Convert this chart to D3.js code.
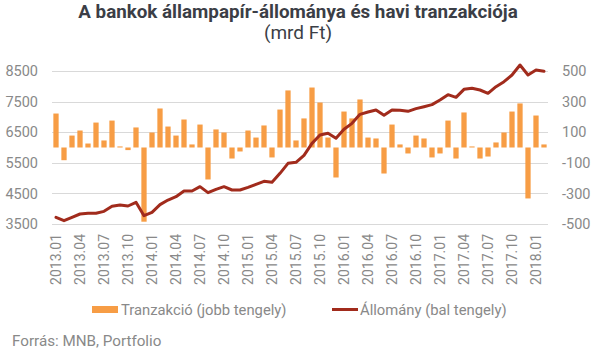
<!DOCTYPE html>
<html lang="hu">
<head>
<meta charset="utf-8">
<title>A bankok állampapír-állománya és havi tranzakciója</title>
<script src="https://cdn.jsdelivr.net/npm/d3@7"></script>
<style>
  body { margin: 0; background: #fff; font-family: Roboto, "Open Sans", sans-serif; }
  .tick text { fill: #898989; font-size: 14px; }
</style>
</head>
<body>
<div id="chart"></div>
<script>
// havi adatok 2013.01 - 2018.02
var months = [];
for (var y = 2013; y <= 2018; y++) {
  for (var m = 1; m <= 12; m++) {
    if (y == 2018 && m > 2) break;
    months.push(y + "." + (m < 10 ? "0" + m : m));
  }
}
// Tranzakció (jobb tengely)
var tranzakcio = [222, -83, 78, 111, 26, 163, 46, 176, 7, -17, 131, -485,
  98, 255, 137, 78, 183, 20, 150, -209, 118, 98, -72, -26,
  111, 65, 144, -65, 248, 373, 46, 190, 392, 294, 65, -196,
  235, 190, 314, 65, 59, -170, 150, 20, -39, 78, 59, -65,
  -39, 176, -72, 229, 7, -72, -59, 33, 98, 235, 288, -333,
  209, 20];
// Állomány (bal tengely)
var allomany = [3718, 3609, 3718, 3827, 3849, 3849, 3914, 4077, 4121, 4088, 4208, 3772,
  3881, 4132, 4284, 4393, 4578, 4578, 4720, 4524, 4633, 4720, 4611, 4611,
  4698, 4796, 4894, 4862, 5156, 5483, 5515, 5744, 6136, 6409, 6463, 6300,
  6594, 6790, 7084, 7160, 7226, 7051, 7226, 7215, 7182, 7269, 7334, 7400,
  7552, 7727, 7640, 7901, 7934, 7879, 7770, 7988, 8151, 8369, 8696, 8369,
  8533, 8489];
var leftTicks = [3500, 4500, 5500, 6500, 7500, 8500];
var rightTicks = [-500, -300, -100, 100, 300, 500];
var tickMonths = months.filter(function (d, i) { return i % 3 == 0; });

var W = 595, H = 350;
var margin = {top: 71, left: 52, right: 47, bottom: 126};

var svg = d3.select("#chart").append("svg").attr("width", W).attr("height", H);

var x = d3.scaleBand().domain(months).range([margin.left, W - margin.right]).paddingInner(0.34).paddingOuter(0.17);
var yL = d3.scaleLinear().domain([3500, 8500]).range([H - margin.bottom, margin.top]);
var yR = d3.scaleLinear().domain([-500, 500]).range([H - margin.bottom, margin.top]);

// rács
svg.append("g").selectAll("line").data(leftTicks).enter().append("line")
  .attr("x1", margin.left).attr("x2", W - margin.right)
  .attr("y1", function (d) { return Math.round(yL(d)) + 0.5; })
  .attr("y2", function (d) { return Math.round(yL(d)) + 0.5; })
  .attr("stroke", "#d9d9d9").attr("stroke-width", 1);

// tengelyek
var plain = function (d) { return String(d); };
var axL = svg.append("g").attr("transform", "translate(" + (margin.left - 14) + ",0)")
  .call(d3.axisLeft(yL).tickValues(leftTicks).tickSize(0).tickPadding(0).tickFormat(plain));
var axR = svg.append("g").attr("transform", "translate(" + (W - margin.right + 14) + ",0)")
  .call(d3.axisRight(yR).tickValues(rightTicks).tickSize(0).tickPadding(0).tickFormat(plain));
var axX = svg.append("g").attr("transform", "translate(0," + (H - margin.bottom + 10) + ")")
  .call(d3.axisBottom(x).tickValues(tickMonths).tickSize(0).tickPadding(0));
axX.selectAll("text").attr("transform", "rotate(-90)").attr("x", 0).attr("y", 0)
  .attr("dx", 0).attr("dy", "0.35em").style("text-anchor", "end");
[axL, axR, axX].forEach(function (a) { a.select(".domain").remove(); });
svg.selectAll(".tick text").style("font-family", "Roboto, sans-serif");
axL.selectAll("text").style("font-size", "14.5px");
axR.selectAll("text").style("font-size", "14.5px");

// oszlopok
svg.append("g").selectAll("rect").data(tranzakcio).enter().append("rect")
  .attr("x", function (d, i) { return x(months[i]); })
  .attr("width", x.bandwidth())
  .attr("y", function (d) { return yR(Math.max(0, d)); })
  .attr("height", function (d) { return Math.abs(yR(d) - yR(0)); })
  .attr("fill", "#f79d45");

// vonal
var line = d3.line().x(function (d, i) { return x(months[i]) + x.bandwidth() / 2; }).y(function (d) { return yL(d); });
svg.append("path").datum(allomany).attr("d", line)
  .attr("fill", "none").attr("stroke", "#a12b1c").attr("stroke-width", 3)
  .attr("stroke-linejoin", "round").attr("stroke-linecap", "round");

// cím
svg.append("text").attr("x", 298).attr("y", 18).attr("text-anchor", "middle")
  .style("font-size", "18.8px").style("font-weight", "bold").style("fill", "#3b3e46")
  .text("A bankok állampapír-állománya és havi tranzakciója");
svg.append("text").attr("x", 298).attr("y", 39).attr("text-anchor", "middle")
  .style("font-size", "19px").style("fill", "#3b3e46")
  .text("(mrd Ft)");

// jelmagyarázat
var lg = svg.append("g").style("font-size", "14.8px").style("fill", "#898989");
lg.append("rect").attr("x", 92).attr("y", 306).attr("width", 26).attr("height", 7).attr("fill", "#f79d45");
lg.append("text").attr("x", 121).attr("y", 315).text("Tranzakció (jobb tengely)");
lg.append("line").attr("x1", 332).attr("x2", 358).attr("y1", 309.5).attr("y2", 309.5)
  .attr("stroke", "#a12b1c").attr("stroke-width", 3);
lg.append("text").attr("x", 360).attr("y", 315).text("Állomány (bal tengely)");

svg.append("text").attr("x", 12).attr("y", 346).style("font-size", "15.2px").style("fill", "#898989")
  .text("Forrás: MNB, Portfolio");
</script>
</body>
</html>
